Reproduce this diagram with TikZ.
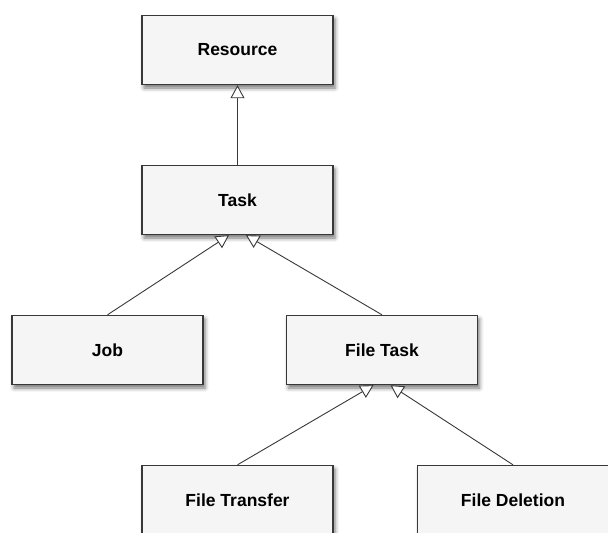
\documentclass[tikz,border=0pt]{standalone}
\usepackage{fontspec}
\setmainfont{Liberation Sans}
\usepackage{tikz}
\usetikzlibrary{arrows.meta,shadows.blur}

\definecolor{boxfill}{HTML}{F4F5F4}
\definecolor{boxline}{HTML}{383838}

\begin{document}
\begin{tikzpicture}[x=1pt, y=-1pt]
  \tikzset{class/.style={draw=boxline, line width=1.4pt, fill=boxfill,
      minimum width=191pt, minimum height=69pt, inner sep=0pt,
      font=\fontsize{17.5}{20}\selectfont\bfseries,
      blur shadow={shadow xshift=2pt, shadow yshift=-3.5pt,
        shadow blur radius=4pt, shadow opacity=55}},
    inherit/.style={draw=boxline, line width=0.9pt,
      -{Triangle[open, length=13pt, width=14pt, fill=white]}}}
  \useasboundingbox (0,0) rectangle (608,533);
  \clip (0,0) rectangle (608,533);
    % classes
    \node[class] (resource) at (237.5,50) {Resource};
    \node[class] (task) at (237.5,200) {Task};
    \node[class] (job) at (107.5,350) {Job};
    \node[class] (filetask) at (382,350) {File Task};
    \node[class] (transfer) at (237.5,500) {File Transfer};
    \node[class] (deletion) at (513,500) {File Deletion};
    % generalisations
    \draw[inherit] (task.north) -- (resource.south);
    \draw[inherit] (job.north) -- ([xshift=-8.5pt]task.south);
    \draw[inherit] (filetask.north) -- ([xshift=8.5pt]task.south);
    \draw[inherit] (transfer.north) -- ([xshift=-8.5pt]filetask.south);
    \draw[inherit] (deletion.north) -- ([xshift=8.5pt]filetask.south);
\end{tikzpicture}
\end{document}
